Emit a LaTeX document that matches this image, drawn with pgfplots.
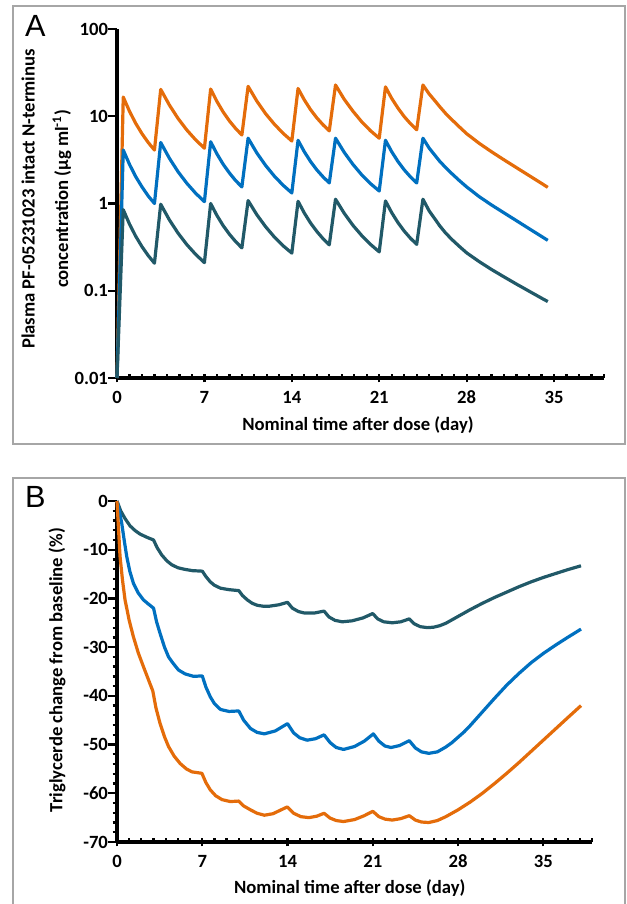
\documentclass[border=0pt]{standalone}
\usepackage{fontspec}
\setmainfont{Carlito}
\newfontfamily\arialfont{Liberation Sans}
\usepackage{pgfplots}
\pgfplotsset{compat=1.18}
\definecolor{cOr}{HTML}{E46C0A}
\definecolor{cBl}{HTML}{0070C0}
\definecolor{cTe}{HTML}{215968}
\definecolor{frm}{HTML}{A6A6A6}
\pgfplotsset{
  myax/.style={
    scale only axis,
    axis x line*=bottom, axis y line*=left,
    axis line style={line width=2.6pt, black},
    xmin=0, xmax=39,
    xtick={0,7,14,21,28,35},
    xticklabels={0,7,14,21,28,35},
    minor xtick={1,2,...,39},
    tick align=center,
    major tick length=6.5pt,
    minor tick length=3.2pt,
    tick style={black, line width=1.7pt},
    every major y tick/.append style={xshift=-3.25pt},
    every minor x tick/.append style={yshift=1.6pt},
    every minor y tick/.append style={xshift=-1.6pt},
    ticklabel style={font=\bfseries\fontsize{14}{16}\selectfont},
    xticklabel style={yshift=-3pt},
    label style={font=\bfseries\fontsize{14}{17}\selectfont},
    clip=false,
    every axis plot/.append style={line width=2.4pt, line join=round, mark=none},
  }
}
\begin{document}
\begin{tikzpicture}
\path[use as bounding box] (0,0) rectangle (469.5pt,678pt);
\draw[frm, line width=0.8pt] (9.75pt,673.5pt) rectangle (468.75pt,345pt);
\draw[frm, line width=0.8pt] (9.75pt,-4.5pt) -- (9.75pt,319.5pt) -- (468.75pt,319.5pt) -- (468.75pt,-4.5pt);
\node[font=\arialfont\fontsize{23}{25}\selectfont] at (26.5pt,658.5pt) {A};
\node[font=\arialfont\fontsize{23}{25}\selectfont] at (26.5pt,305pt) {B};

\begin{axis}[myax,
  at={(87.75pt,394.5pt)}, anchor=south west,
  width=365.25pt, height=261.75pt,
  ymode=log, ymin=0.01, ymax=100,
  ytick={0.01,0.1,1,10,100},
  yticklabels={0.01,0.1,1,10,100},
  yminorticks=false,
  xlabel={Nominal time after dose (day)},
  xlabel style={at={(axis description cs:0.495,-0.135)}, anchor=center},
  ylabel={Plasma PF-05231023 intact N-terminus\\[8pt]concentration (µg ml\textsuperscript{-1})},
  ylabel style={at={(axis description cs:-0.145,0.513)}, anchor=center, align=center},
]
\addplot[cOr] coordinates {
(0,0.01)(0.5,16.6)(1.0,11.4)(1.5,8.28)(2.0,6.31)(2.5,5.00)(3,4.1)
(3.5,20.3)(4.2,13.4)(4.9,9.38)(5.6,6.93)(6.3,5.36)(7,4.3)
(7.5,20.5)(8.0,14.8)(8.5,11.2)(9.0,8.85)(9.5,7.24)(10,6.1)
(10.5,22)(11.2,14.9)(11.9,10.7)(12.6,8.11)(13.3,6.38)(14,5.2)
(14.5,20.8)(15.0,15.4)(15.5,11.9)(16.0,9.59)(16.5,7.98)(17,6.8)
(17.5,22.8)(18.2,15.6)(18.9,11.4)(19.6,8.63)(20.3,6.82)(21,5.6)
(21.5,21.7)(22.0,16.0)(22.5,12.4)(23.0,9.91)(23.5,8.22)(24,7.0)
(24.5,22.8)(25.0,18.0)(25.5,14.8)(25.84,12.9)(26.3,10.84)(26.8,9.18)(27.4,7.59)(28,6.31)
(29,4.90)(30,3.91)(31,3.16)(32,2.57)(33,2.09)(34,1.70)(34.5,1.53)
};
\addplot[cBl] coordinates {
(0,0.01)(0.5,4.1)(1.0,2.81)(1.5,2.03)(2.0,1.55)(2.5,1.22)(3,1.0)
(3.5,5.0)(4.2,3.29)(4.9,2.30)(5.6,1.70)(6.3,1.31)(7,1.05)
(7.5,5.1)(8.0,3.71)(8.5,2.82)(9.0,2.24)(9.5,1.83)(10,1.55)
(10.5,5.6)(11.2,3.79)(11.9,2.73)(12.6,2.06)(13.3,1.62)(14,1.32)
(14.5,5.3)(15.0,3.92)(15.5,3.03)(16.0,2.43)(16.5,2.02)(17,1.72)
(17.5,5.6)(18.2,3.85)(18.9,2.80)(19.6,2.13)(20.3,1.69)(21,1.39)
(21.5,5.3)(22.0,3.92)(22.5,3.03)(23.0,2.43)(23.5,2.02)(24,1.72)
(24.5,5.6)(25.0,4.31)(25.5,3.51)(25.84,3.05)(26.3,2.60)(26.8,2.21)(27.4,1.84)(28,1.55)
(29,1.20)(30,0.96)(31,0.78)(32,0.634)(33,0.515)(34,0.419)(34.5,0.378)
};
\addplot[cTe] coordinates {
(0,0.01)(0.5,0.85)(1.0,0.581)(1.5,0.421)(2.0,0.320)(2.5,0.253)(3,0.207)
(3.5,0.98)(4.2,0.647)(4.9,0.455)(5.6,0.337)(6.3,0.261)(7,0.21)
(7.5,1.0)(8.0,0.730)(8.5,0.558)(9.0,0.445)(9.5,0.366)(10,0.31)
(10.5,1.08)(11.2,0.743)(11.9,0.542)(12.6,0.413)(13.3,0.328)(14,0.27)
(14.5,1.06)(15.0,0.778)(15.5,0.598)(16.0,0.479)(16.5,0.395)(17,0.336)
(17.5,1.12)(18.2,0.771)(18.9,0.561)(19.6,0.429)(20.3,0.340)(21,0.279)
(21.5,1.07)(22.0,0.785)(22.5,0.604)(23.0,0.483)(23.5,0.400)(24,0.34)
(24.5,1.12)(25.0,0.822)(25.5,0.653)(25.84,0.556)(26.3,0.462)(26.8,0.389)(27.4,0.324)(28,0.272)
(29,0.216)(30,0.175)(31,0.144)(32,0.119)(33,0.0989)(34,0.0822)(34.5,0.0752)
};
\end{axis}

\begin{axis}[myax,
  at={(87.75pt,46.5pt)}, anchor=south west,
  width=356.25pt, height=255.75pt,
  ymin=-70, ymax=0,
  ytick={-70,-60,-50,-40,-30,-20,-10,0},
  yticklabels={-70,-60,-50,-40,-30,-20,-10,0},
  minor ytick={-68,-66,...,-2},
  xlabel={Nominal time after dose (day)},
  xlabel style={at={(axis description cs:0.49,-0.135)}, anchor=center},
  ylabel={Triglycerde change from baseline (\%)},
  ylabel style={at={(axis description cs:-0.126,0.504)}, anchor=center},
]
\addplot[cTe] coordinates {
(0,0)(0.3,-2.0)(0.66,-3.6)(1.07,-5.1)(1.5,-6.1)(1.9,-6.8)(2.5,-7.5)(3.0,-8.0)
(3.3,-9.6)(3.68,-11.1)(4.1,-12.3)(4.5,-13.1)(5.0,-13.7)(5.5,-14.0)(6.2,-14.3)(7.0,-14.4)
(7.3,-15.5)(7.66,-16.6)(8.0,-17.3)(8.5,-17.9)(9.2,-18.2)(10.0,-18.4)
(10.3,-19.4)(10.7,-20.3)(11.1,-21.0)(11.5,-21.4)(12.0,-21.6)(12.5,-21.6)(13.3,-21.3)(14.0,-20.8)
(14.4,-22.0)(14.9,-22.7)(15.4,-23.0)(16.2,-23.0)(17.0,-22.6)
(17.4,-23.8)(17.9,-24.5)(18.5,-24.8)(19.3,-24.6)(20.2,-24.0)(21.0,-23.1)
(21.4,-24.2)(21.9,-24.8)(22.6,-25.0)(23.3,-24.8)(24.0,-24.2)
(24.4,-25.2)(24.9,-25.8)(25.5,-26.0)(26.0,-25.9)(26.5,-25.6)(27.0,-25.1)(27.5,-24.4)(28,-23.7)
(29,-22.3)(30,-21.0)(31,-19.8)(32,-18.7)(33,-17.6)(34,-16.6)(35,-15.7)(36,-14.9)(37,-14.1)(38.1,-13.3)
};
\addplot[cBl] coordinates {
(0,0)(0.2,-2.2)(0.39,-4.6)(0.6,-8.2)(0.8,-11.4)(1.05,-14.4)(1.35,-16.9)(1.75,-18.9)(2.17,-20.3)(2.6,-21.2)(3.0,-22.0)
(3.25,-24.8)(3.54,-27.2)(3.9,-30.0)(4.23,-32.0)(4.6,-33.3)(5.05,-34.7)(5.6,-35.5)(6.29,-36.0)(7.0,-35.9)
(7.3,-38.2)(7.66,-40.2)(8.0,-41.6)(8.5,-42.8)(9.2,-43.2)(10.0,-43.1)
(10.4,-45.0)(10.96,-46.7)(11.5,-47.5)(12.1,-47.8)(13.0,-47.2)(14.0,-45.7)
(14.5,-47.6)(15.0,-48.6)(15.6,-49.1)(16.3,-48.8)(17.0,-48.0)
(17.5,-49.6)(18.0,-50.6)(18.6,-51.0)(19.5,-50.4)(20.3,-49.3)(21.05,-47.8)
(21.5,-49.3)(22.0,-50.3)(22.5,-50.6)(23.2,-50.2)(24.0,-49.2)
(24.5,-50.7)(25.0,-51.5)(25.6,-51.8)(26.3,-51.5)(27.0,-50.5)(27.5,-49.6)(28,-48.5)(28.5,-47.4)
(29,-46.1)(30,-43.3)(31,-40.5)(32,-37.8)(33,-35.4)(34,-33.2)(35,-31.3)(36,-29.6)(37,-28.0)(38.1,-26.3)
};
\addplot[cOr] coordinates {
(0,0)(0.12,-5.5)(0.25,-11.4)(0.45,-16.2)(0.66,-20.3)(1.0,-24.5)(1.35,-27.9)(1.75,-31.2)(2.17,-34.0)(2.6,-36.8)(2.94,-39.0)
(3.2,-42.5)(3.54,-45.7)(3.9,-48.4)(4.23,-50.4)(4.7,-52.4)(5.19,-53.9)(5.7,-55.0)(6.15,-55.6)(6.97,-55.9)
(7.3,-57.8)(7.66,-59.3)(8.1,-60.5)(8.62,-61.3)(9.3,-61.7)(10.0,-61.6)
(10.4,-62.6)(10.96,-63.4)(11.5,-64.1)(12.1,-64.5)(12.8,-64.2)(13.98,-62.8)
(14.5,-64.1)(15.1,-64.8)(15.76,-65.0)(16.4,-64.7)(17.0,-64.1)
(17.5,-65.1)(18.0,-65.6)(18.6,-65.8)(19.5,-65.4)(20.3,-64.6)(21.0,-63.7)
(21.5,-64.8)(22.0,-65.3)(22.6,-65.5)(23.3,-65.2)(24.0,-64.6)
(24.5,-65.5)(25.0,-65.9)(25.6,-66.0)(26.3,-65.6)(27,-64.8)(28,-63.4)
(29,-61.8)(30,-60.0)(31,-58.0)(32,-55.9)(33,-53.7)(34,-51.4)(35,-49.1)(36,-46.8)(37,-44.5)(38.1,-42.0)
};
\end{axis}
\end{tikzpicture}
\end{document}
